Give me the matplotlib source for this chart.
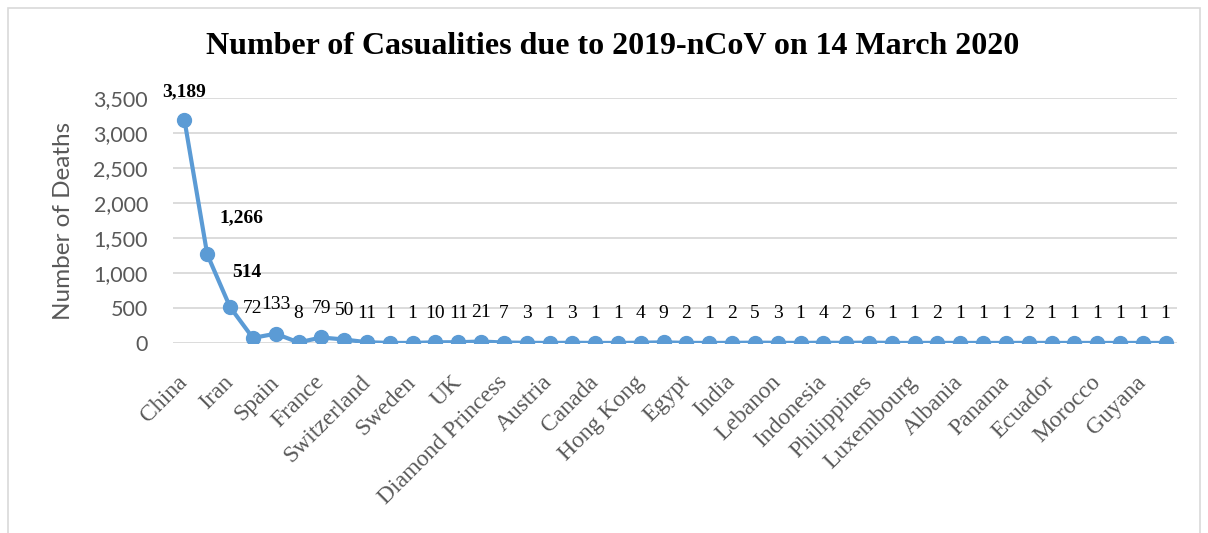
import matplotlib
matplotlib.use("Agg")
import matplotlib.pyplot as plt
from matplotlib.patches import Rectangle
from matplotlib.ticker import FuncFormatter

countries = ["China", "Italy", "Iran", "South Korea", "Spain", "Germany", "France", "USA",
             "Switzerland", "Norway", "Sweden", "Netherlands", "UK", "Japan", "Diamond Princess",
             "Belgium", "Austria", "Australia", "Canada", "Greece", "Hong Kong", "Iraq", "Egypt",
             "Argentina", "India", "San Marino", "Lebanon", "Ireland", "Indonesia", "Poland",
             "Philippines", "Bulgaria", "Luxembourg", "Thailand", "Albania", "Taiwan", "Panama",
             "Algeria", "Ecuador", "Slovenia", "Morocco", "Sudan", "Guyana", "Cambodia"]
deaths = [3189, 1266, 514, 72, 133, 8, 79, 50, 11, 1, 1, 10, 11, 21, 7, 3, 1, 3, 1, 1, 4, 9, 2,
          1, 2, 5, 3, 1, 4, 2, 6, 1, 1, 2, 1, 1, 1, 2, 1, 1, 1, 1, 1, 1]
yticks = [0, 500, 1000, 1500, 2000, 2500, 3000, 3500]
title = "Number of Casualities due to 2019-nCoV on 14 March 2020"
ylabel = "Number of Deaths"

W, H = 1208, 533
fig = plt.figure(figsize=(W / 100, H / 100), dpi=100)
fig.patches.append(Rectangle((8 / W, -0.1), (1200 - 8) / W, 1.1 - 8 / H,
                             transform=fig.transFigure, fill=False, edgecolor="#D9D9D9",
                             linewidth=1.2))

ax = fig.add_axes([173 / W, 1 - 343 / H, (1177 - 173) / W, (343 - 98) / H])
x = list(range(len(deaths)))
blue = "#5B9BD5"
ax.plot(x, deaths, color=blue, linewidth=3, marker="o", markersize=10, zorder=3,
        solid_capstyle="round")
ax.set_xlim(-0.5, len(deaths) - 0.5)
ax.set_ylim(0, 3500)
ax.set_yticks(yticks)
ax.yaxis.set_major_formatter(FuncFormatter(lambda v, p: f"{int(v):,}"))
ax.grid(axis="y", color="#D9D9D9", linewidth=1.3)
ax.set_axisbelow(True)
for s in ax.spines.values():
    s.set_visible(False)
ax.tick_params(axis="y", length=0, pad=18, labelcolor="#595959", labelsize=15.5)
ax.tick_params(axis="x", length=0, pad=26)
for lab in ax.get_yticklabels():
    lab.set_fontfamily("Lato")

ax.set_xticks(x[::2])
ax.set_xticklabels(countries[::2], rotation=45, ha="right", va="center",
                   rotation_mode="anchor", fontsize=17, color="#595959",
                   fontfamily="Liberation Serif")

ax.set_ylabel(ylabel, fontsize=17.5, color="#595959", fontfamily="Lato", labelpad=14)
fig.text(0.507, 1 - 47 / H, title, ha="center", va="center", fontsize=23,
         fontweight="bold", fontfamily="Liberation Serif")

# data labels
bold_offsets = [(0, 28), (34, 37), (17, 35)]
for i, v in enumerate(deaths):
    if i < 3:
        dx, dy = bold_offsets[i]
        ax.annotate(f"{v:,}", (i, v), xytext=(dx * 0.72, dy * 0.72), textcoords="offset points",
                    ha="center", va="center", fontsize=14, fontweight="bold",
                    fontfamily="Liberation Serif")
    else:
        ax.annotate(f"{v:,}", (i, v), xytext=(0, 21), textcoords="offset points",
                    ha="center", va="center", fontsize=14,
                    fontfamily="Liberation Serif", color="#000000")

fig.savefig("out.png", dpi=100)
